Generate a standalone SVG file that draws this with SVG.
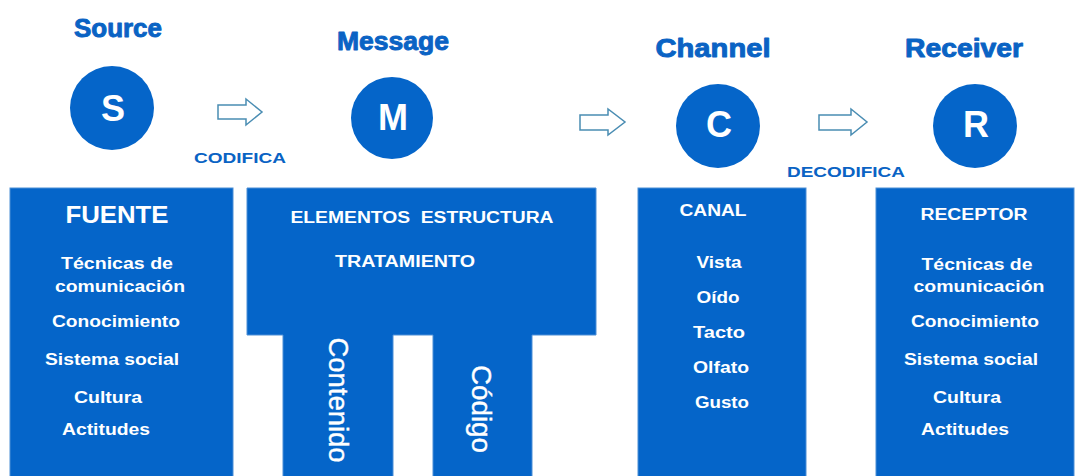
<svg xmlns="http://www.w3.org/2000/svg" width="1075" height="476" viewBox="0 0 1075 476">
<defs>
<style>
.box{fill:#0565c9;stroke:#4d8fd6;stroke-width:1}
.circ{fill:#0565c9}
.title{font-family:"Liberation Sans",Arial,sans-serif;font-weight:bold;font-size:25px;fill:#0a63c4;stroke:#0a63c4;stroke-width:0.9;stroke-linejoin:round;text-anchor:middle}
.letter{font-family:"Liberation Sans",Arial,sans-serif;font-weight:bold;font-size:36px;fill:#ffffff;text-anchor:middle}
.lbl{font-family:"Liberation Sans",Arial,sans-serif;font-weight:bold;font-size:15px;fill:#0a63c4;text-anchor:middle}
.t{font-family:"Liberation Sans",Arial,sans-serif;font-weight:bold;font-size:17px;fill:#ffffff;text-anchor:middle}
.h{font-family:"Liberation Sans",Arial,sans-serif;font-weight:bold;font-size:16px;fill:#ffffff;text-anchor:middle;white-space:pre}
.big{font-family:"Liberation Sans",Arial,sans-serif;font-weight:bold;font-size:24px;fill:#ffffff;text-anchor:middle}
.v{font-family:"Liberation Sans",Arial,sans-serif;font-size:27px;fill:#ffffff;stroke:#ffffff;stroke-width:0.4;text-anchor:middle}
.arr{fill:#ffffff;stroke:#4a8db3;stroke-width:1.5}
</style>
</defs>
<rect width="1075" height="476" fill="#ffffff"/>

<g id="source">
<text class="title" x="118" y="37" textLength="88" lengthAdjust="spacingAndGlyphs">Source</text>
<circle class="circ" cx="112" cy="108" r="42"/>
<text class="letter" x="113" y="121">S</text>
<rect class="box" x="10" y="188" width="223" height="290"/>
<text class="big" x="117" y="223" textLength="103" lengthAdjust="spacingAndGlyphs">FUENTE</text>
<text class="t" x="117" y="269" textLength="112" lengthAdjust="spacingAndGlyphs">Técnicas de</text>
<text class="t" x="120" y="292" textLength="130" lengthAdjust="spacingAndGlyphs">comunicación</text>
<text class="t" x="116" y="327" textLength="128" lengthAdjust="spacingAndGlyphs">Conocimiento</text>
<text class="t" x="112" y="365" textLength="134" lengthAdjust="spacingAndGlyphs">Sistema social</text>
<text class="t" x="108" y="403" textLength="68" lengthAdjust="spacingAndGlyphs">Cultura</text>
<text class="t" x="106" y="435" textLength="88" lengthAdjust="spacingAndGlyphs">Actitudes</text>
</g>

<g id="message">
<text class="title" x="393" y="50" textLength="112" lengthAdjust="spacingAndGlyphs">Message</text>
<circle class="circ" cx="392" cy="118" r="41"/>
<text class="letter" x="393" y="130">M</text>
<path class="box" d="M247,188 H596 V335 H532 V478 H433 V335 H393 V478 H283 V335 H247 Z"/>
<text class="h" x="422" y="223" textLength="263" lengthAdjust="spacingAndGlyphs">ELEMENTOS  ESTRUCTURA</text>
<text class="h" x="405" y="267" textLength="140" lengthAdjust="spacingAndGlyphs">TRATAMIENTO</text>
<text class="v" transform="translate(329,400) rotate(90)" x="0" y="0" textLength="125" lengthAdjust="spacingAndGlyphs">Contenido</text>
<text class="v" transform="translate(472,409) rotate(90)" x="0" y="0" textLength="88" lengthAdjust="spacingAndGlyphs">Código</text>
</g>

<g id="channel">
<text class="title" x="713" y="57" textLength="115" lengthAdjust="spacingAndGlyphs">Channel</text>
<circle class="circ" cx="718" cy="126" r="42"/>
<text class="letter" x="719" y="137">C</text>
<rect class="box" x="638" y="188" width="168" height="290"/>
<text class="h" x="713" y="216" textLength="67" lengthAdjust="spacingAndGlyphs">CANAL</text>
<text class="t" x="719" y="268" textLength="45" lengthAdjust="spacingAndGlyphs">Vista</text>
<text class="t" x="718" y="303" textLength="43" lengthAdjust="spacingAndGlyphs">Oído</text>
<text class="t" x="719" y="338" textLength="52" lengthAdjust="spacingAndGlyphs">Tacto</text>
<text class="t" x="721" y="373" textLength="56" lengthAdjust="spacingAndGlyphs">Olfato</text>
<text class="t" x="722" y="408" textLength="54" lengthAdjust="spacingAndGlyphs">Gusto</text>
</g>

<g id="receiver">
<text class="title" x="964" y="57" textLength="118" lengthAdjust="spacingAndGlyphs">Receiver</text>
<circle class="circ" cx="975" cy="126" r="42"/>
<text class="letter" x="976" y="137">R</text>
<rect class="box" x="876" y="188" width="198" height="290"/>
<text class="h" x="974" y="220" textLength="107" lengthAdjust="spacingAndGlyphs">RECEPTOR</text>
<text class="t" x="977" y="270" textLength="111" lengthAdjust="spacingAndGlyphs">Técnicas de</text>
<text class="t" x="979" y="292" textLength="131" lengthAdjust="spacingAndGlyphs">comunicación</text>
<text class="t" x="975" y="327" textLength="128" lengthAdjust="spacingAndGlyphs">Conocimiento</text>
<text class="t" x="971" y="365" textLength="134" lengthAdjust="spacingAndGlyphs">Sistema social</text>
<text class="t" x="967" y="403" textLength="68" lengthAdjust="spacingAndGlyphs">Cultura</text>
<text class="t" x="965" y="435" textLength="88" lengthAdjust="spacingAndGlyphs">Actitudes</text>
</g>

<g id="connectors">
<path class="arr" d="M218,105 H246 V99 L262,112 L246,125 V119 H218 Z"/>
<text class="lbl" x="240" y="163" textLength="92" lengthAdjust="spacingAndGlyphs">CODIFICA</text>
<path class="arr" d="M580,115 H608 V109 L625,122 L608,135 V130 H580 Z"/>
<path class="arr" d="M819,115 H851 V109 L867,122 L851,135 V130 H819 Z"/>
<text class="lbl" x="846" y="177" textLength="118" lengthAdjust="spacingAndGlyphs">DECODIFICA</text>
</g>
</svg>
